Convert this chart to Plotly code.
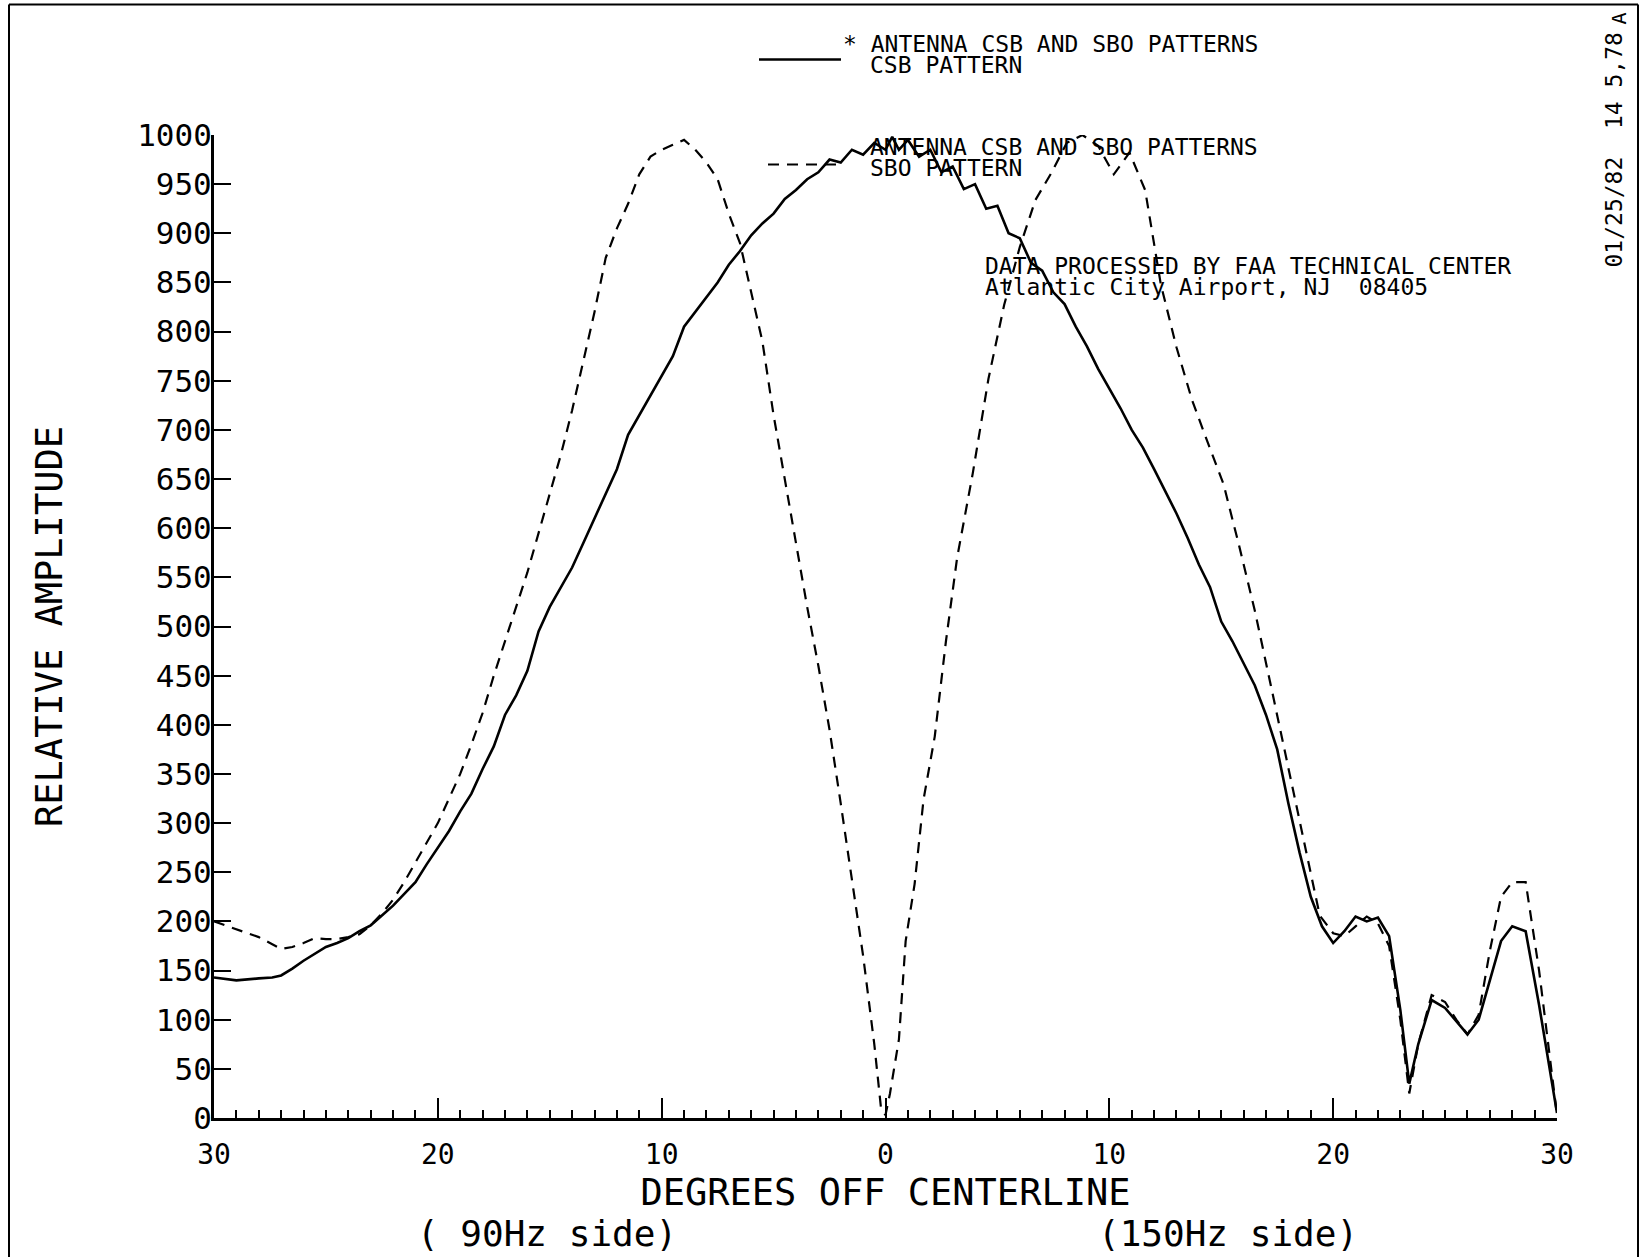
import plotly.graph_objects as go

# ---- data (degrees off centerline: negative = 90Hz side, positive = 150Hz side)
csb_deg = [-30, -29, -28, -27.4, -27, -26.5, -26, -25.5, -25, -24.5, -24, -23.5, -23, -22.5,
           -22, -21.5, -21, -20.5, -20, -19.5, -19, -18.5, -18, -17.5, -17, -16.5, -16, -15.5,
           -15, -14.5, -14, -13.5, -13, -12.5, -12, -11.5, -11, -10.5, -10, -9.5, -9, -8.5,
           -8, -7.5, -7, -6.5, -6, -5.5, -5, -4.5, -4, -3.5, -3, -2.5, -2, -1.5, -1, -0.5,
           0, 0.3, 0.6, 1, 1.5, 2, 2.5, 3, 3.5, 4, 4.5, 5, 5.5, 6, 6.5, 7, 7.5, 8, 8.5, 9,
           9.5, 10, 10.5, 11, 11.5, 12, 12.5, 13, 13.5, 14, 14.5, 15, 15.5, 16, 16.5, 17,
           17.5, 18, 18.5, 19, 19.5, 20, 20.5, 21, 21.5, 22, 22.5, 23, 23.4, 23.8, 24.4, 25,
           25.5, 26, 26.5, 27, 27.5, 28, 28.6, 29.2, 30]
csb_amp = [143, 140, 142, 143, 145, 152, 160, 167, 174, 178, 183, 190, 196, 206,
           216, 228, 240, 258, 275, 292, 312, 330, 355, 378, 410, 430, 455, 495,
           520, 540, 560, 585, 610, 635, 660, 695, 715, 735, 755, 775, 805, 820,
           835, 850, 868, 882, 898, 910, 920, 935, 944, 955, 962, 975, 972, 985, 980, 992,
           985, 998, 985, 995, 978, 985, 962, 968, 945, 950, 925, 928, 900, 895, 870, 862,
           840, 828, 805, 785, 762, 742, 722, 700, 682, 660, 638, 615, 590, 563, 540, 505,
           485, 462, 440, 410, 375, 320, 270, 225, 195, 178, 190, 205, 200, 204, 185, 110,
           35, 75, 120, 112, 98, 85, 100, 140, 180, 195, 190, 115, 5]

sbo_deg = [-30, -29.5, -29, -28.5, -28, -27.5, -27, -26.5, -26, -25.5, -25, -24.5, -24, -23.5,
           -23, -22.5, -22, -21.5, -21, -20.5, -20, -19.5, -19, -18.5, -18, -17.5, -17, -16.5,
           -16, -15.5, -15, -14.5, -14, -13.5, -13, -12.5, -12, -11.5, -11, -10.5, -10, -9.5,
           -9, -8.5, -8, -7.5, -7, -6.5, -6, -5.5, -5, -4.5, -4, -3.5, -3, -2.5, -2, -1.5,
           -1, -0.5, -0.2, 0, 0.2, 0.6, 0.9, 1.3, 1.7, 2.2, 2.7, 3.2, 3.9, 4.6, 5.3, 6.0,
           6.7, 7.4, 8.1, 8.8, 9.5, 10.2, 10.9, 11.6, 12.3, 13.0, 13.7, 14.4, 15.1, 15.8,
           16.5, 17.3, 18.0, 18.7, 19.4, 20, 20.5, 21, 21.5, 22, 22.5, 23, 23.4, 23.8, 24.4,
           25, 25.5, 26, 26.5, 27, 27.5, 28, 28.6, 29.2, 30]
sbo_amp = [200, 196, 192, 188, 184, 178, 172, 174, 178, 183, 182, 182, 184, 187,
           196, 208, 222, 240, 260, 280, 300, 325, 350, 380, 412, 450, 485, 520,
           555, 595, 635, 675, 720, 770, 820, 875, 905, 930, 960, 978, 985, 990,
           995, 985, 972, 955, 920, 890, 840, 790, 715, 650, 585, 520, 460, 395, 320, 245,
           165, 75, 10, 3, 25, 80, 180, 238, 324, 388, 485, 570, 656, 752, 827, 886,
           934, 961, 992, 1000, 989, 960, 982, 944, 848, 784, 730, 687, 645, 582,
           516, 431, 356, 281, 206, 188, 185, 195, 205, 198, 175, 100, 25, 75, 125,
           118, 100, 85, 105, 170, 225, 240, 240, 150, 3]

x_tick_vals = [-30, -20, -10, 0, 10, 20, 30]
x_tick_text = ["30", "20", "10", "0", "10", "20", "30"]
y_tick_vals = list(range(0, 1001, 50))
y_tick_text = [str(v) for v in y_tick_vals]

FONT = "DejaVu Sans Mono"
W, H = 1649, 1257
L, R, T, B = 214, 1557, 134.5, 1118


def px(x):
    return (x - L) / (R - L)


def py(y):
    return (B - y) / (B - T)


fig = go.Figure()
fig.add_trace(go.Scatter(x=csb_deg, y=csb_amp, mode="lines", name="CSB PATTERN",
                         line=dict(color="black", width=2.6), showlegend=False))
fig.add_trace(go.Scatter(x=sbo_deg, y=sbo_amp, mode="lines", name="SBO PATTERN",
                         line=dict(color="black", width=2.2, dash="11px,8px"), showlegend=False))

fig.update_layout(
    width=W, height=H,
    margin=dict(l=L, r=W - R, t=T, b=H - B, autoexpand=False),
    paper_bgcolor="white", plot_bgcolor="white",
    font=dict(family=FONT, color="black"),
    xaxis=dict(range=[-30, 30], tickvals=x_tick_vals, ticktext=x_tick_text,
               ticks="inside", ticklen=20, tickwidth=2, tickcolor="black",
               showline=True, linecolor="black", linewidth=3, showgrid=False, zeroline=False,
               tickfont=dict(size=28, family=FONT), ticklabelstandoff=9,
               minor=dict(dtick=1, tick0=0, ticks="inside", ticklen=8, tickwidth=2,
                          tickcolor="black", showgrid=False),
               title=dict(text="DEGREES OFF CENTERLINE", font=dict(size=37, family=FONT),
                          standoff=0)),
    yaxis=dict(range=[0, 1000], tickvals=y_tick_vals, ticktext=y_tick_text,
               ticks="inside", ticklen=17, tickwidth=2, tickcolor="black",
               showline=True, linecolor="black", linewidth=3, showgrid=False, zeroline=False,
               tickfont=dict(size=31, family=FONT), ticklabelstandoff=-7,
               title=dict(text="RELATIVE AMPLITUDE", font=dict(size=37, family=FONT),
                          standoff=64)),
)

ann = []
def add_text(text, x, y, size, xanchor="left", angle=0):
    ann.append(dict(text=text, x=px(x), y=py(y), xref="paper", yref="paper",
                    xanchor=xanchor, yanchor="middle", showarrow=False, textangle=angle,
                    font=dict(size=size, family=FONT, color="black")))

# legend block
add_text("* ANTENNA CSB AND SBO PATTERNS", 841, 43, 23)
add_text("CSB PATTERN", 868, 64, 23)
add_text("ANTENNA CSB AND SBO PATTERNS", 868, 147, 23)
add_text("SBO PATTERN", 868, 168, 23)
# processing note
add_text("DATA PROCESSED BY FAA TECHNICAL CENTER", 983, 266, 23)
add_text("Atlantic City Airport, NJ\u00a0\u00a008405", 983, 287, 23)
# side labels
add_text("( 90Hz side)", 547, 1234, 36, xanchor="center")
add_text("(150Hz side)", 1228, 1234, 36, xanchor="center")
# date stamp on the right margin
add_text("01/25/82\u00a0\u00a014 5,78", 1614, 150, 23, xanchor="center", angle=-90)
add_text("A", 1619, 18, 20, xanchor="center", angle=-90)
fig.update_layout(annotations=ann)

shapes = [
    # legend line samples
    dict(type="line", xref="paper", yref="paper", x0=px(759), x1=px(841), y0=py(59), y1=py(59),
         line=dict(color="black", width=2.6)),
    dict(type="line", xref="paper", yref="paper", x0=px(768), x1=px(841), y0=py(164), y1=py(164),
         line=dict(color="black", width=2.2, dash="11px,8px")),
    # page border
    dict(type="line", xref="paper", yref="paper", x0=px(9), x1=px(9), y0=py(4), y1=py(1260),
         line=dict(color="black", width=2)),
    dict(type="line", xref="paper", yref="paper", x0=px(9), x1=px(1638), y0=py(4), y1=py(4),
         line=dict(color="black", width=2)),
    dict(type="line", xref="paper", yref="paper", x0=px(1638), x1=px(1638), y0=py(4), y1=py(1260),
         line=dict(color="black", width=2)),
]
fig.update_layout(shapes=shapes)

fig.write_html("out.html", config={"displayModeBar": False},
               post_script="document.body.style.margin='0';")
